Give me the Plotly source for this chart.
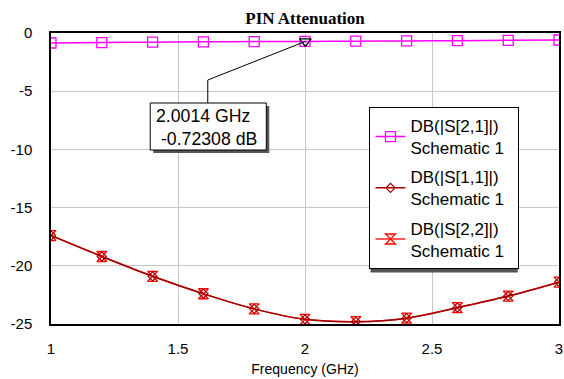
import plotly.graph_objects as go

# ---- data ----
freq_ghz = [1.0, 1.2, 1.4, 1.6, 1.8, 2.0, 2.2, 2.4, 2.6, 2.8, 3.0]
s21_db = [-0.86, -0.82, -0.79, -0.76, -0.74, -0.72, -0.70, -0.68, -0.66, -0.63, -0.60]
s11_db = [-17.4, -19.2, -20.9, -22.4, -23.7, -24.6, -24.8, -24.5, -23.6, -22.6, -21.4]
s22_db = [-17.4, -19.2, -20.9, -22.4, -23.7, -24.6, -24.8, -24.5, -23.6, -22.6, -21.4]
marker_freq = [2.0014]
marker_db = [-0.72308]
marker_text = "2.0014 GHz<br> -0.72308 dB"
series_names = ["DB(|S[2,1]|)<br>Schematic 1&nbsp;&nbsp;",
                "DB(|S[1,1]|)<br>Schematic 1&nbsp;&nbsp;",
                "DB(|S[2,2]|)<br>Schematic 1&nbsp;&nbsp;"]
x_ticks = [1, 1.5, 2, 2.5, 3]
x_tick_labels = ["1", "1.5", "2", "2.5", "3"]
y_ticks = [0, -5, -10, -15, -20, -25]
y_tick_labels = ["0", "-5", "-10", "-15", "-20", "-25"]

# ---- layout geometry ----
W, H = 564, 379
ML, MR, MT, MB = 51, 1, 33, 55
PW, PH = W - ML - MR, H - MT - MB


def px(xp):
    return (xp - ML) / PW


def py(yp):
    return (H - MB - yp) / PH


def dx(xp):
    return 1 + (xp - ML) / PW * 2


def dy(yp):
    return -(yp - MT) / PH * 25


FONT = "Liberation Sans, Arial, sans-serif"

fig = go.Figure()
fig.add_trace(go.Scatter(
    x=freq_ghz, y=s21_db, name=series_names[0], mode="lines+markers",
    legendgroup="a", legendrank=1,
    line=dict(color="#ff00ff", width=1.5, shape="spline"),
    marker=dict(symbol="square-open", size=10, color="#ff00ff", line=dict(width=1.3)),
))
fig.add_trace(go.Scatter(
    x=freq_ghz, y=s22_db, name=series_names[2], mode="lines+markers",
    legendgroup="c", legendrank=3,
    line=dict(color="#ff2020", width=1.5, shape="spline"),
    marker=dict(symbol="hourglass-open", size=10, color="#ff0000", line=dict(width=1.3)),
))
fig.add_trace(go.Scatter(
    x=freq_ghz, y=s11_db, name=series_names[1], mode="lines+markers",
    legendgroup="b", legendrank=2,
    line=dict(color="#a00000", width=1.5, shape="spline"),
    marker=dict(symbol="diamond-open", size=7, color="#a00000", line=dict(width=1.2)),
))
fig.add_trace(go.Scatter(
    x=marker_freq, y=marker_db, mode="markers", showlegend=False,
    marker=dict(symbol="triangle-down-open", size=10, color="black", line=dict(width=1.2)),
))

# callout elbow line
elbow_x, elbow_y, box_top = dx(209), dy(80), dy(103)
fig.add_shape(type="line", xref="x", yref="y", x0=marker_freq[0], y0=marker_db[0],
              x1=elbow_x, y1=elbow_y, line=dict(color="black", width=1))
fig.add_shape(type="line", xref="x", yref="y", x0=elbow_x, y0=elbow_y,
              x1=elbow_x, y1=box_top, line=dict(color="black", width=1))
# callout box with shadow
fig.add_shape(type="rect", xref="paper", yref="paper", x0=px(154), x1=px(271),
              y0=py(106), y1=py(153), fillcolor="#555555", line=dict(width=0), layer="above")
fig.add_shape(type="rect", xref="paper", yref="paper", x0=px(151), x1=px(268),
              y0=py(103), y1=py(150), fillcolor="white", line=dict(color="black", width=1),
              layer="above")
fig.add_annotation(xref="paper", yref="paper", x=px(155), y=py(104), xanchor="left",
                   yanchor="top", text=marker_text, showarrow=False, align="left",
                   font=dict(family=FONT, size=17.7, color="black"))
# legend shadow
fig.add_shape(type="rect", xref="paper", yref="paper", x0=px(373), x1=px(521.5),
              y0=py(110), y1=py(272.5), fillcolor="#555555", line=dict(width=0), layer="above")

fig.update_layout(
    width=W, height=H,
    margin=dict(l=ML, r=MR, t=MT, b=MB, pad=0),
    paper_bgcolor="white", plot_bgcolor="white",
    title=dict(text="<b>PIN Attenuation</b>", x=px(307), xref="paper", y=1 - 18 / H,
               yref="container", xanchor="center", yanchor="middle",
               font=dict(family="Liberation Serif, Times New Roman, serif", size=17, color="black")),
    showlegend=True,
    legend=dict(x=px(372), y=py(107), xanchor="left", yanchor="top",
                bgcolor="white", bordercolor="black", borderwidth=1,
                font=dict(family=FONT, size=17, color="black"),
                itemwidth=30, tracegroupgap=4, traceorder="grouped"),
    xaxis=dict(range=[1, 3], tickvals=x_ticks, ticktext=x_tick_labels,
               showgrid=True, gridcolor="#c8c8c8", gridwidth=1,
               showline=True, linecolor="black", linewidth=1.5, mirror=True,
               ticks="", ticklabelstandoff=10, zeroline=False, ticklabeloverflow="allow",
               tickfont=dict(family=FONT, size=15, color="black"),
               title=dict(text="Frequency (GHz)", standoff=8,
                          font=dict(family=FONT, size=14, color="black"))),
    yaxis=dict(range=[-25, 0], tickvals=y_ticks, ticktext=y_tick_labels,
               showgrid=True, gridcolor="#c8c8c8", gridwidth=1,
               showline=True, linecolor="black", linewidth=1.5, mirror=True,
               ticks="", ticklabelstandoff=14, zeroline=False,
               tickfont=dict(family=FONT, size=15, color="black")),
)

fig.write_html("out.html")
